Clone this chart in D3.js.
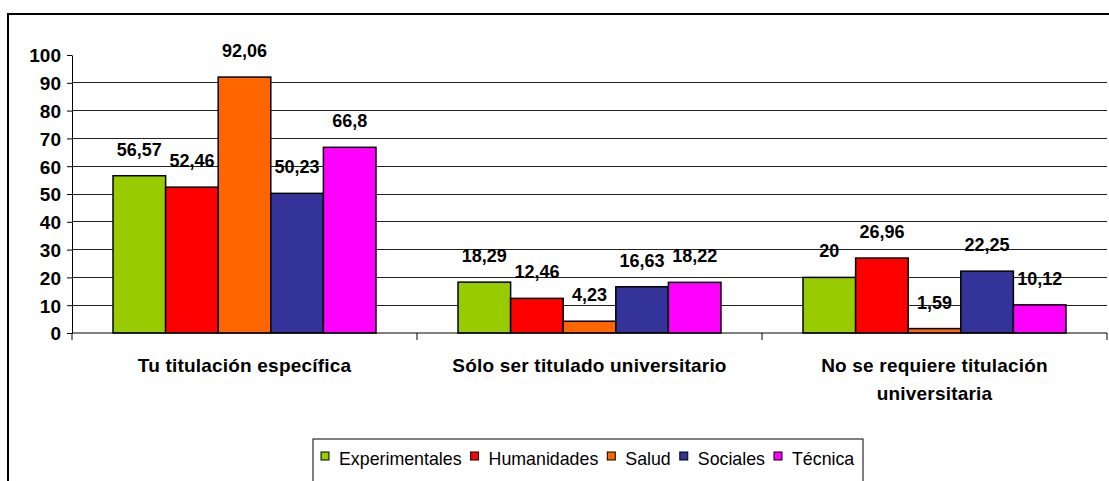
<!DOCTYPE html>
<html lang="es">
<head>
  <meta charset="UTF-8">
  <title>Titulación requerida</title>
  <script src="https://d3js.org/d3.v7.min.js"></script>
  <style>
    body { margin: 0; background: #fff; }
    svg { display: block; font-family: "Liberation Sans", Arial, sans-serif; }
    .axis text { font-size: 19px; font-weight: bold; fill: #000; }
    .axis path, .axis line { stroke: #000; }
  </style>
</head>
<body>
  <svg id="chart" width="1109" height="481"></svg>
  <script>
    // Data
    const categories = ["Tu titulación específica", "Sólo ser titulado universitario", "No se requiere titulación universitaria"];
    const seriesNames = ["Experimentales", "Humanidades", "Salud", "Sociales", "Técnica"];
    const experimentales = [56.57, 18.29, 20];
    const humanidades = [52.46, 12.46, 26.96];
    const salud = [92.06, 4.23, 1.59];
    const sociales = [50.23, 16.63, 22.25];
    const tecnica = [66.8, 18.22, 10.12];
    const yTicks = [0, 10, 20, 30, 40, 50, 60, 70, 80, 90, 100];
    const colors = ["#99cc00", "#ff0000", "#ff6600", "#333399", "#ff00ff"];

    const seriesValues = [experimentales, humanidades, salud, sociales, tecnica];

    const svg = d3.select("#chart");
    const plot = {left: 72, right: 1107, top: 55, bottom: 333};

    // outer chart border (runs past the picture on the right and bottom)
    svg.append("rect")
      .attr("x", 8).attr("y", 14)
      .attr("width", 1200).attr("height", 600)
      .attr("fill", "none").attr("stroke", "#000").attr("stroke-width", 2);

    const y = d3.scaleLinear().domain([0, 100]).range([plot.bottom, plot.top]);
    const x0 = d3.scaleBand().domain(categories).range([plot.left, plot.right]).padding(0);
    const x1 = d3.scaleBand().domain(seriesNames).range([0, x0.bandwidth()])
      .paddingInner(0).paddingOuter(0.78);

    // gridlines (none at 0 or 100)
    svg.append("g").selectAll("line")
      .data(yTicks.filter(t => t > 0 && t < 100))
      .join("line")
      .attr("x1", plot.left).attr("x2", plot.right)
      .attr("y1", d => y(d)).attr("y2", d => y(d))
      .attr("stroke", "#222").attr("stroke-width", 1)
      .attr("shape-rendering", "crispEdges");

    // bars
    const groups = svg.append("g").selectAll("g")
      .data(seriesNames)
      .join("g")
      .attr("fill", (d, i) => colors[i]);

    groups.selectAll("rect")
      .data((s, i) => categories.map((c, j) => ({cat: c, series: s, value: seriesValues[i][j]})))
      .join("rect")
      .attr("x", d => x0(d.cat) + x1(d.series))
      .attr("y", d => y(d.value))
      .attr("width", x1.bandwidth())
      .attr("height", d => y(0) - y(d.value))
      .attr("stroke", "#000").attr("stroke-width", 1.5);

    // value labels
    groups.selectAll("text")
      .data((s, i) => categories.map((c, j) => ({cat: c, series: s, value: seriesValues[i][j]})))
      .join("text")
      .attr("x", d => x0(d.cat) + x1(d.series) + x1.bandwidth() / 2)
      .attr("y", d => y(d.value) - 20)
      .attr("text-anchor", "middle")
      .attr("fill", "#000")
      .attr("font-size", 18).attr("font-weight", "bold")
      .text(d => String(d.value).replace(".", ","));

    // y axis
    svg.append("g")
      .attr("class", "axis")
      .attr("transform", `translate(${plot.left},0)`)
      .call(d3.axisLeft(y).tickValues(yTicks).tickSize(5).tickPadding(6).tickSizeOuter(0))
      .call(g => g.selectAll("text").attr("dy", "0.36em"));

    // x axis line and category ticks
    const xAxis = svg.append("g").attr("class", "axis");
    xAxis.append("line")
      .attr("x1", plot.left).attr("x2", plot.right)
      .attr("y1", y(0)).attr("y2", y(0));
    const edges = categories.map(c => x0(c)).concat([plot.right]);
    xAxis.selectAll("line.tick")
      .data(edges)
      .join("line")
      .attr("class", "tick")
      .attr("x1", d => d).attr("x2", d => d)
      .attr("y1", y(0)).attr("y2", y(0) + 7);

    // category labels, wrapped
    const catLabels = xAxis.selectAll("text.cat")
      .data(categories)
      .join("text")
      .attr("class", "cat")
      .attr("x", d => x0(d) + x0.bandwidth() / 2)
      .attr("y", 372)
      .attr("text-anchor", "middle")
      .style("letter-spacing", "0.2px");

    catLabels.each(function(d) {
      const t = d3.select(this);
      const words = d.split(" ");
      let line = [];
      let tspan = t.append("tspan").attr("x", t.attr("x")).attr("dy", 0);
      words.forEach(w => {
        line.push(w);
        tspan.text(line.join(" "));
        if (tspan.node().getComputedTextLength() > 300 && line.length > 1) {
          line.pop();
          tspan.text(line.join(" "));
          line = [w];
          tspan = t.append("tspan").attr("x", t.attr("x")).attr("dy", 28).text(w);
        }
      });
    });

    // legend
    const legend = svg.append("g");
    legend.append("rect")
      .attr("x", 313).attr("y", 439)
      .attr("width", 550).attr("height", 70)
      .attr("fill", "#fff").attr("stroke", "#000").attr("stroke-width", 1);

    let lx = 321;
    seriesNames.forEach((name, i) => {
      legend.append("rect")
        .attr("x", lx).attr("y", 452)
        .attr("width", 8).attr("height", 8)
        .attr("fill", colors[i]).attr("stroke", "#000").attr("stroke-width", 1);
      const txt = legend.append("text")
        .attr("x", lx + 18).attr("y", 465)
        .attr("font-size", 17.8).attr("fill", "#000")
        .text(name);
      lx += 18 + txt.node().getComputedTextLength() + 9;
    });
  </script>
</body>
</html>
